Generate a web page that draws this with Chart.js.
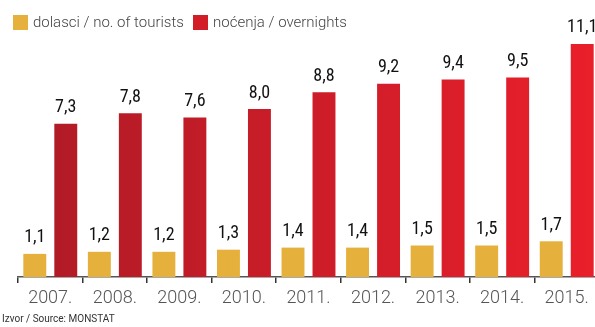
<!DOCTYPE html>
<html>
<head>
<meta charset="utf-8">
<script src="https://cdn.jsdelivr.net/npm/chart.js@4"></script>
<style>
  html, body { margin: 0; padding: 0; background: #fff; }
  body { width: 595px; height: 327px; overflow: hidden; position: relative; font-family: "Roboto", sans-serif; }
  #wrap { position: absolute; left: 0; top: 0; width: 600px; height: 327px; }
  .legend { position: absolute; top: 13px; font-size: 15px; font-weight: 300; color: #444; display: flex; align-items: center; }
  .legend span.box { display: inline-block; width: 15px; height: 15px; margin-right: 5px; }
  #source { position: absolute; left: 2px; top: 313px; font-size: 10px; color: #333; }
</style>
</head>
<body>
<div id="wrap"><canvas id="chart" width="600" height="327"></canvas></div>
<div class="legend" style="left:13px"><span class="box" style="background:#e5b03b"></span>dolasci / no. of tourists</div>
<div class="legend" style="left:193px"><span class="box" style="background:#d21d28"></span>noćenja / overnights</div>
<div id="source">Izvor / Source: MONSTAT</div>
<script>
const years = ["2007.", "2008.", "2009.", "2010.", "2011.", "2012.", "2013.", "2014.", "2015."];
const arrivals = [1.1, 1.2, 1.2, 1.3, 1.4, 1.4, 1.5, 1.5, 1.7];
const overnights = [7.3, 7.8, 7.6, 8.0, 8.8, 9.2, 9.4, 9.5, 11.1];

// red bars go from dark red on the left to bright red on the right
function redGradient(context) {
  const area = context.chart.chartArea;
  if (!area) return "#d21d28";
  const g = context.chart.ctx.createLinearGradient(area.left, 0, area.right, 0);
  g.addColorStop(0, "#ae1b26");
  g.addColorStop(1, "#ea1f2a");
  return g;
}

// value labels above bars, with decimal comma
const valueLabels = {
  id: "valueLabels",
  afterDatasetsDraw(chart) {
    const ctx = chart.ctx;
    ctx.save();
    ctx.fillStyle = "#111";
    ctx.font = "18px 'Roboto Condensed', 'Liberation Sans Narrow', Roboto, sans-serif";
    ctx.textAlign = "center";
    ctx.textBaseline = "bottom";
    chart.data.datasets.forEach((ds, i) => {
      chart.getDatasetMeta(i).data.forEach((bar, j) => {
        ctx.fillText(ds.data[j].toFixed(1).replace(".", ","), bar.x, bar.y - 7);
      });
    });
    ctx.restore();
  },
};

new Chart(document.getElementById("chart"), {
  type: "bar",
  data: {
    labels: years,
    datasets: [
      {
        data: arrivals,
        backgroundColor: "#e5b03b",
        categoryPercentage: 0.96,
        barPercentage: 0.74,
      },
      {
        data: overnights,
        backgroundColor: redGradient,
        categoryPercentage: 0.96,
        barPercentage: 0.74,
      },
    ],
  },
  plugins: [valueLabels],
  options: {
    responsive: false,
    animation: false,
    events: [],
    layout: { padding: { left: 18, right: 1, top: 4, bottom: 0 } },
    scales: {
      x: {
        afterFit(scale) { scale.height = 50; },
        border: { color: "#555", width: 1.5 },
        grid: { offset: true, drawOnChartArea: false, color: "#333", tickLength: 6, lineWidth: 1.5 },
        ticks: { color: "#555", padding: 5, font: { size: 18, weight: 300, family: "Roboto" } },
      },
      y: {
        display: false,
        min: 0,
        max: 13,
      },
    },
    plugins: {
      legend: { display: false },
      tooltip: { enabled: false },
    },
  },
});
</script>
</body>
</html>
